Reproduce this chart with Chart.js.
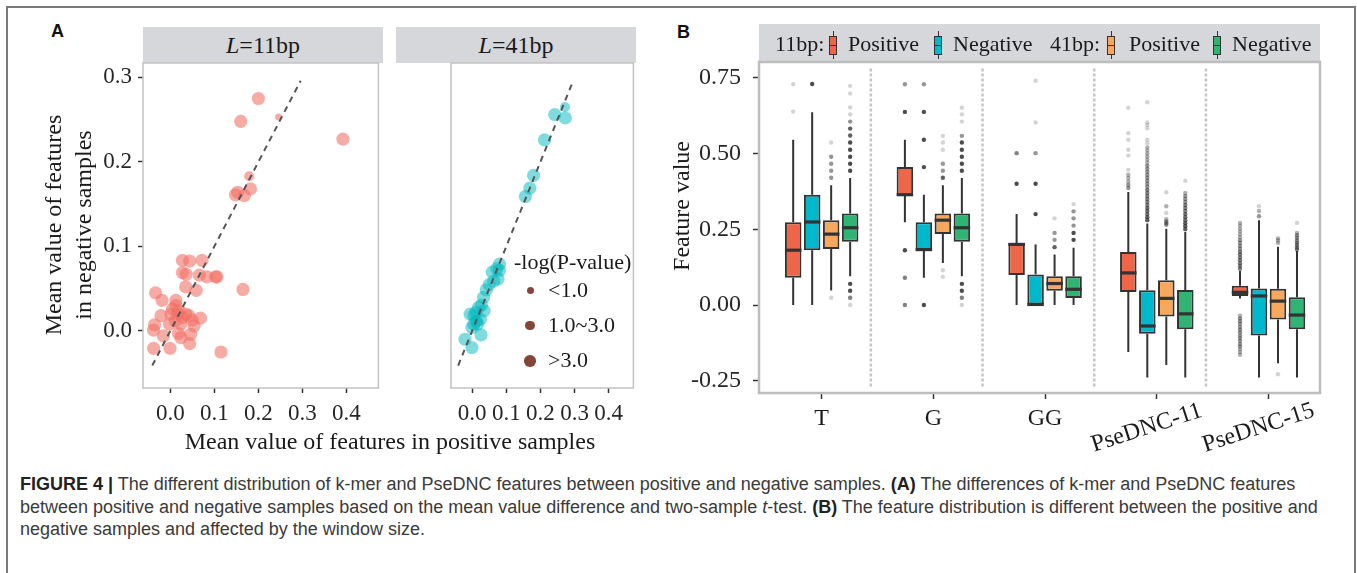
<!DOCTYPE html>
<html>
<head>
<meta charset="utf-8">
<title>Figure 4</title>
<script src="https://cdn.jsdelivr.net/npm/chart.js@4.4.1/dist/chart.umd.min.js"></script>
<style>
  html, body { margin: 0; padding: 0; }
  body { width: 1357px; height: 573px; position: relative; overflow: hidden; background: #fff;
         font-family: "Liberation Serif", "Times New Roman", serif; color: #1a1a1a; }
  .t { position: absolute; white-space: nowrap; line-height: 1; }
  .frame { position: absolute; left: 6px; top: 6px; width: 1346px; height: 700px; border: 2px solid #7a7a7a; }
  .tag { font-family: "Liberation Sans", Arial, sans-serif; font-weight: bold; font-size: 18px; color: #111; }
  .strip { position: absolute; background: #d5d7da; display: flex; align-items: center; justify-content: center; font-size: 24px; }
  .wrap { position: absolute; }
  canvas { display: block; }
  .icon { position: absolute; width: 8px; }
  .icon .w { position: absolute; left: 3.5px; top: 0; width: 1px; height: 28px; background: #333; }
  .icon .b { position: absolute; left: 0; top: 5px; width: 6px; height: 17px; border: 1px solid #333; }
  .icon .m { position: absolute; left: 0; top: 13.5px; width: 8px; height: 1px; background: #333; }
  .caption { font-family: "Liberation Sans", Arial, sans-serif; font-size: 18px; color: #3a3a3a; line-height: 22.5px; }
  .caption b { color: #222; }
</style>
</head>
<body>
<div class="frame"></div>
<div class="t tag" style="left:51px;top:22px">A</div>
<div class="t tag" style="left:677px;top:23px">B</div>

<div class="strip" style="left:143px;top:27px;width:240px;height:36px"><span><i>L</i>=11bp</span></div>
<div class="strip" style="left:396px;top:27px;width:240px;height:36px"><span><i>L</i>=41bp</span></div>

<div class="wrap" style="left:88px;top:55px;width:297px;height:375px"><canvas id="a11" width="297" height="375"></canvas></div>
<div class="wrap" style="left:392px;top:55px;width:248px;height:375px"><canvas id="a41" width="248" height="375"></canvas></div>

<!-- size legend, panel A -->
<div class="t" style="left:514px;top:251px;font-size:22px">-log(P-value)</div>
<div style="position:absolute;left:526.5px;top:286.5px;width:7px;height:7px;border-radius:50%;background:#84463a"></div>
<div style="position:absolute;left:525px;top:320.5px;width:9.5px;height:9.5px;border-radius:50%;background:#84463a"></div>
<div style="position:absolute;left:524px;top:355px;width:11.5px;height:11.5px;border-radius:50%;background:#84463a"></div>
<div class="t" style="left:548px;top:279px;font-size:22px">&lt;1.0</div>
<div class="t" style="left:548px;top:314px;font-size:22px">1.0~3.0</div>
<div class="t" style="left:548px;top:349px;font-size:22px">&gt;3.0</div>

<div class="t" style="left:0;width:780px;text-align:center;top:429px;font-size:24px">Mean value of features in positive samples</div>
<div class="t" style="left:-132px;top:195px;width:400px;height:60px;text-align:center;font-size:24px;line-height:30px;transform:rotate(-90deg)">Mean value of features<br>in negative samples</div>

<!-- panel B -->
<div class="strip" style="left:759px;top:24px;width:561px;height:38px"></div>
<div class="t" style="left:775px;top:33px;font-size:22px">11bp:</div>
<div class="icon" style="left:829px;top:31px"><div class="w"></div><div class="b" style="background:#ef6548"></div><div class="m"></div></div>
<div class="t" style="left:848px;top:33px;font-size:22px">Positive</div>
<div class="icon" style="left:934px;top:31px"><div class="w"></div><div class="b" style="background:#00b8cc"></div><div class="m"></div></div>
<div class="t" style="left:953px;top:33px;font-size:22px">Negative</div>
<div class="t" style="left:1050px;top:33px;font-size:22px">41bp:</div>
<div class="icon" style="left:1107px;top:31px"><div class="w"></div><div class="b" style="background:#f7a85c"></div><div class="m"></div></div>
<div class="t" style="left:1129px;top:33px;font-size:22px">Positive</div>
<div class="icon" style="left:1213px;top:31px"><div class="w"></div><div class="b" style="background:#2eb573"></div><div class="m"></div></div>
<div class="t" style="left:1232px;top:33px;font-size:22px">Negative</div>

<div class="wrap" style="left:690px;top:55px;width:635px;height:405px"><canvas id="boxes" width="635" height="405"></canvas></div>
<div class="t" style="left:531px;top:191px;width:300px;height:30px;text-align:center;font-size:24px;line-height:30px;transform:rotate(-90deg)">Feature value</div>

<div class="t caption" style="left:20px;top:473px">
<b>FIGURE 4 |</b> The different distribution of k-mer and PseDNC features between positive and negative samples. <b>(A)</b> The differences of k-mer and PseDNC features<br>between positive and negative samples based on the mean value difference and two-sample <i>t</i>-test. <b>(B)</b> The feature distribution is different between the positive and<br>negative samples and affected by the window size.
</div>

<script>
// ---------- panel A: mean feature value in positive (x) / negative (y) samples
const xTicksA = [0, 0.1, 0.2, 0.3, 0.4];
const yTicksA = [0, 0.1, 0.2, 0.3];
const diagLine = [-0.041, 0.296];

const l11Pos = [0.200, 0.160, 0.246, 0.392, 0.179, 0.153, 0.168, 0.182, 0.148, 0.0275,
  0.044, 0.072, 0.0275, 0.036, 0.066, 0.083, 0.106, 0.103, 0.035, 0.059,
  0.165, -0.0335, -0.0186, 0.0127, -0.021, 0.0015, 0.020, 0.042, 0.0685, 0.050,
  -0.0357, -0.038, -0.0156, 0.0186, 0.046, 0.024, 0.044, -0.038, -0.0007, 0.115,
  0.005, 0.016, 0.0275, 0.035, 0.011, -0.002, 0.024, 0.054, 0.0127];
const l11Neg = [0.275, 0.248, 0.253, 0.227, 0.183, 0.164, 0.160, 0.168, 0.161, 0.0834,
  0.0826, 0.0834, 0.069, 0.067, 0.066, 0.064, 0.064, 0.064, 0.052, 0.048,
  0.049, 0.045, 0.036, 0.036, 0.018, 0.020, 0.024, 0.018, 0.015, 0.0127,
  0.0072, 0.0008, -0.006, -0.003, -0.004, -0.008, -0.015, -0.0207, -0.0207, -0.025,
  0.026, 0.020, 0.016, 0.020, 0.012, 0.008, 0.008, 0.006, 0.030];
// -log(P-value) class: 0 = <1.0, 1 = 1.0~3.0, 2 = >3.0
const l11Sig = [2, 2, 0, 2, 1, 2, 2, 2, 2, 2, 2, 2, 2, 2, 2, 2, 2, 2, 2, 2, 2, 2, 2, 2, 2,
  2, 2, 2, 2, 2, 2, 2, 2, 2, 2, 2, 2, 2, 2, 2, 2, 2, 2, 2, 2, 2, 2, 2, 2];

const l41Pos = [0.272, 0.242, 0.273, 0.212, 0.180, 0.169, 0.156, 0.080, 0.072, 0.059,
  0.080, 0.076, 0.063, 0.050, 0.041, 0.0335, 0.0275, 0.0186, -0.006, 0.005,
  0.0127, 0.024, 0.005, -0.0007, 0.026, -0.021, -0.0007, 0.035, 0.011, 0.016];
const l41Neg = [0.265, 0.256, 0.252, 0.226, 0.184, 0.169, 0.159, 0.079, 0.0735, 0.0695,
  0.0715, 0.0616, 0.0588, 0.0548, 0.0485, 0.0397, 0.0306, 0.0278, 0.0199, 0.018,
  0.012, 0.0139, 0.008, 0.004, -0.0048, -0.0099, -0.0199, 0.0238, 0.022, 0.008];
const l41Sig = [1, 2, 2, 2, 2, 2, 2, 2, 2, 2, 2, 2, 2, 2, 2, 2, 2, 2, 2, 2, 2, 2, 2, 2, 2,
  2, 2, 2, 2, 2];

// ---------- panel B: feature value distributions
const categories = ['T', 'G', 'GG', 'PseDNC-11', 'PseDNC-15'];
const yTicksB = [-0.25, 0, 0.25, 0.5, 0.75];
const dividers = [0.44, 1.44, 2.44, 3.44];

// [lower whisker, Q1, median, Q3, upper whisker]
const pos11Box = [
  [0.000, 0.090, 0.181, 0.273, 0.545],
  [0.273, 0.361, 0.364, 0.455, 0.545],
  [0.000, 0.099, 0.200, 0.205, 0.300],
  [-0.155, 0.043, 0.106, 0.175, 0.373],
  [0.022, 0.030, 0.042, 0.064, 0.112]
];
const neg11Box = [
  [0.000, 0.181, 0.274, 0.364, 0.636],
  [0.090, 0.179, 0.183, 0.273, 0.364],
  [0.000, 0.000, 0.002, 0.101, 0.200],
  [-0.239, -0.095, -0.069, 0.049, 0.269],
  [-0.239, -0.100, 0.030, 0.055, 0.280]
];
const pos41Box = [
  [0.048, 0.185, 0.234, 0.280, 0.395],
  [0.139, 0.234, 0.280, 0.302, 0.395],
  [0.000, 0.047, 0.071, 0.095, 0.167],
  [-0.198, -0.038, 0.022, 0.082, 0.252],
  [-0.192, -0.048, 0.013, 0.054, 0.192]
];
const neg41Box = [
  [0.095, 0.209, 0.255, 0.302, 0.419],
  [0.095, 0.209, 0.255, 0.302, 0.419],
  [0.000, 0.023, 0.052, 0.095, 0.189],
  [-0.239, -0.080, -0.029, 0.050, 0.241],
  [-0.239, -0.080, -0.033, 0.026, 0.178]
];

// outliers: [value, how many points overlap there]
const pos11Out = [
  [[0.728, 1], [0.638, 1]],
  [[0.728, 3], [0.637, 8], [0.181, 8], [0.090, 4], [0.000, 4]],
  [[0.501, 4], [0.400, 8]],
  [[0.651, 1], [0.567, 1], [0.545, 1], [0.512, 1], [0.493, 1], [0.446, 1], [0.430, 2],
   [0.419, 2], [0.408, 2], [0.397, 3], [0.386, 3]],
  [[0.271, 2], [0.262, 2], [0.252, 2], [0.243, 2], [0.233, 2], [0.224, 2], [0.214, 3],
   [0.205, 3], [0.195, 3], [0.186, 3], [0.176, 4], [0.167, 4], [0.157, 4], [0.148, 4],
   [0.138, 4], [0.129, 4], [0.120, 4],
   [-0.035, 2], [-0.044, 3], [-0.053, 3], [-0.062, 3], [-0.072, 3], [-0.081, 3], [-0.090, 3],
   [-0.100, 3], [-0.109, 3], [-0.118, 3], [-0.128, 3], [-0.137, 3], [-0.146, 2], [-0.155, 2],
   [-0.164, 2]]
];
const neg11Out = [
  [[0.729, 8]],
  [[0.728, 3], [0.637, 8], [0.545, 8], [0.455, 8], [0.000, 8]],
  [[0.740, 1], [0.602, 1], [0.501, 3], [0.400, 8], [0.300, 8]],
  [[0.669, 1], [0.602, 1], [0.594, 1], [0.583, 1], [0.545, 1], [0.534, 1], [0.520, 2],
   [0.510, 2], [0.500, 2], [0.490, 2], [0.480, 2], [0.470, 2], [0.460, 3], [0.450, 3],
   [0.440, 3], [0.430, 3], [0.420, 3], [0.410, 3], [0.400, 3], [0.390, 3], [0.380, 4],
   [0.370, 4], [0.360, 4], [0.350, 4], [0.340, 4], [0.330, 4], [0.320, 5], [0.310, 5],
   [0.300, 5], [0.290, 6], [0.280, 6]],
  [[0.326, 1], [0.310, 2], [0.293, 3]]
];
const pos41Out = [
  [[0.536, 1], [0.489, 3], [0.466, 3], [0.443, 3], [0.420, 3], [0.024, 1]],
  [[0.558, 1], [0.536, 1], [0.512, 1], [0.466, 3], [0.443, 3], [0.420, 6], [0.115, 1], [0.093, 1]],
  [[0.286, 1], [0.238, 3], [0.215, 3], [0.191, 6]],
  [[0.372, 1], [0.326, 2], [0.304, 1], [0.283, 2], [0.276, 3], [0.270, 3], [0.265, 3]],
  [[0.220, 2], [0.213, 2], [0.205, 2], [-0.228, 1]]
];
const neg41Out = [
  [[0.723, 1], [0.698, 1], [0.652, 1], [0.629, 1], [0.605, 3], [0.582, 6], [0.559, 6],
   [0.536, 8], [0.512, 8], [0.489, 8], [0.466, 8], [0.443, 8],
   [0.070, 8], [0.047, 8], [0.024, 4], [0.000, 1]],
  [[0.651, 1], [0.629, 1], [0.605, 1], [0.558, 3], [0.536, 8], [0.512, 8], [0.489, 8],
   [0.466, 8], [0.443, 8], [0.070, 8], [0.047, 8], [0.024, 4], [0.000, 1]],
  [[0.333, 1], [0.309, 3], [0.286, 3], [0.262, 3], [0.238, 8], [0.215, 8]],
  [[0.410, 1], [0.370, 2], [0.360, 3], [0.350, 3], [0.340, 3], [0.330, 4], [0.320, 4],
   [0.310, 4], [0.300, 5], [0.290, 5], [0.280, 5], [0.270, 6], [0.260, 6], [0.250, 6]],
  [[0.271, 1], [0.238, 2], [0.230, 3], [0.222, 3], [0.214, 3], [0.206, 4], [0.198, 4],
   [0.190, 4], [0.183, 4]]
];

const seriesBoxes = [pos11Box, neg11Box, pos41Box, neg41Box];
const seriesOutliers = [pos11Out, neg11Out, pos41Out, neg41Out];
const seriesLabels = ['11bp Positive', '11bp Negative', '41bp Positive', '41bp Negative'];
const seriesColors = ['#ef6548', '#00b8cc', '#f7a85c', '#2eb573'];

// ---------- shared bits
const serif = '"Liberation Serif", serif';
const sizeBySig = [3.6, 5, 6.6];

// fixes an axis' thickness so the plot panels land where the figure has them
function fixAxis(size, key) {
  return function (scale) {
    scale[key] = size;
    scale.paddingLeft = scale.paddingRight = scale.paddingTop = scale.paddingBottom = 0;
  };
}

const panelFrame = {
  id: 'panelFrame',
  afterDraw(chart, args, opts) {
    const { ctx, chartArea: a } = chart;
    ctx.save();
    ctx.strokeStyle = opts.color;
    ctx.lineWidth = opts.width;
    ctx.strokeRect(a.left, a.top, a.right - a.left, a.bottom - a.top);
    ctx.restore();
  }
};

function scatterPanel(id, xs, ys, sig, color, showY, pad) {
  return new Chart(document.getElementById(id), {
    type: 'scatter',
    data: {
      datasets: [
        {
          type: 'line',
          data: diagLine.map(v => ({ x: v, y: v })),
          borderColor: '#555',
          borderWidth: 2,
          borderDash: [6, 5],
          pointRadius: 0,
          fill: false,
          order: 0
        },
        {
          data: xs.map((x, i) => ({ x, y: ys[i] })),
          backgroundColor: color,
          borderWidth: 0,
          pointRadius: sig.map(s => sizeBySig[s]),
          order: 1
        }
      ]
    },
    options: {
      responsive: false,
      animation: false,
      events: [],
      layout: { padding: pad },
      plugins: {
        legend: { display: false },
        tooltip: { enabled: false },
        panelFrame: { color: '#c2c2c2', width: 1.5 }
      },
      scales: {
        x: {
          type: 'linear', min: -0.062, max: 0.4725, offset: false,
          afterBuildTicks: s => { s.ticks = xTicksA.map(v => ({ value: v })); },
          afterFit: fixAxis(42, 'height'),
          grid: { drawOnChartArea: false, tickLength: 5, tickColor: '#333', tickWidth: 1.5 },
          border: { display: false },
          ticks: { callback: v => v.toFixed(1), font: { family: serif, size: 23 }, color: '#262626', padding: 7, maxRotation: 0 }
        },
        y: {
          display: showY,
          type: 'linear', min: -0.0676, max: 0.317,
          afterBuildTicks: s => { s.ticks = yTicksA.map(v => ({ value: v })); },
          afterFit: fixAxis(55, 'width'),
          grid: { drawOnChartArea: false, tickLength: 5, tickColor: '#333', tickWidth: 1.5 },
          border: { display: false },
          ticks: { callback: v => v.toFixed(1), font: { family: serif, size: 23 }, color: '#262626', padding: 6 }
        }
      }
    },
    plugins: [panelFrame]
  });
}

scatterPanel('a11', l11Pos, l11Neg, l11Sig, 'rgba(242, 110, 100, 0.58)', true, { top: 8, right: 2, left: 0, bottom: 0 });
scatterPanel('a41', l41Pos, l41Neg, l41Sig, 'rgba(0, 184, 190, 0.5)', false, { top: 8, right: 4, left: 4, bottom: 0 });

// whiskers, outliers, medians and the category labels of the box plots
const boxParts = {
  id: 'boxParts',
  beforeDatasetsDraw(chart) {
    const { ctx, scales: { x, y } } = chart;
    ctx.save();
    ctx.strokeStyle = '#c6c6c6';
    ctx.lineWidth = 2.5;
    ctx.setLineDash([3, 2]);
    dividers.forEach(d => {
      const px = x.getPixelForValue(d);
      ctx.beginPath();
      ctx.moveTo(px, y.getPixelForValue(0.78));
      ctx.lineTo(px, y.getPixelForValue(-0.27));
      ctx.stroke();
    });
    ctx.setLineDash([]);

    seriesBoxes.forEach((boxes, di) => {
      chart.getDatasetMeta(di).data.forEach((bar, i) => {
        const s = boxes[i];
        ctx.strokeStyle = '#333';
        ctx.lineWidth = 2;
        ctx.beginPath();
        ctx.moveTo(bar.x, y.getPixelForValue(s[4]));
        ctx.lineTo(bar.x, y.getPixelForValue(s[3]));
        ctx.moveTo(bar.x, y.getPixelForValue(s[1]));
        ctx.lineTo(bar.x, y.getPixelForValue(s[0]));
        ctx.stroke();
        seriesOutliers[di][i].forEach(([v, n]) => {
          ctx.fillStyle = 'rgba(40, 40, 40, ' + (1 - Math.pow(0.8, n)).toFixed(3) + ')';
          ctx.beginPath();
          ctx.arc(bar.x, y.getPixelForValue(v), 2.2, 0, Math.PI * 2);
          ctx.fill();
        });
      });
    });
    ctx.restore();
  },
  afterDatasetsDraw(chart) {
    const { ctx, scales: { y } } = chart;
    ctx.save();
    ctx.strokeStyle = '#333';
    ctx.lineWidth = 3.2;
    seriesBoxes.forEach((boxes, di) => {
      chart.getDatasetMeta(di).data.forEach((bar, i) => {
        const py = y.getPixelForValue(boxes[i][2]);
        ctx.beginPath();
        ctx.moveTo(bar.x - bar.width / 2, py);
        ctx.lineTo(bar.x + bar.width / 2, py);
        ctx.stroke();
      });
    });
    ctx.restore();
  },
  afterDraw(chart) {
    const { ctx, chartArea: a, scales: { x } } = chart;
    ctx.save();
    ctx.fillStyle = '#1a1a1a';
    ctx.font = '24px ' + serif;
    categories.forEach((c, i) => {
      const px = x.getPixelForValue(i);
      if (c.length < 4) {
        ctx.textAlign = 'center';
        ctx.textBaseline = 'alphabetic';
        ctx.fillText(c, px, a.bottom + 32);
      } else {
        ctx.save();
        ctx.translate(px - 10, a.bottom + 35);
        ctx.rotate(-18 * Math.PI / 180);
        ctx.textAlign = 'center';
        ctx.textBaseline = 'middle';
        ctx.fillText(c, 0, 0);
        ctx.restore();
      }
    });
    ctx.restore();
  }
};

new Chart(document.getElementById('boxes'), {
  type: 'bar',
  data: {
    datasets: seriesBoxes.map((boxes, di) => ({
      label: seriesLabels[di],
      data: boxes.map((s, i) => ({ x: i, y: [s[1], s[3]] })),
      backgroundColor: seriesColors[di],
      borderColor: '#333',
      borderWidth: 2,
      borderSkipped: false,
      categoryPercentage: 0.68,
      barPercentage: 0.87
    }))
  },
  options: {
    responsive: false,
    animation: false,
    events: [],
    layout: { padding: { top: 7, right: 5, left: 0, bottom: 0 } },
    plugins: {
      legend: { display: false },
      tooltip: { enabled: false },
      panelFrame: { color: '#bdbdbd', width: 2.5 }
    },
    scales: {
      x: {
        type: 'linear', min: -0.561, max: 4.461, offset: false,
        afterBuildTicks: s => { s.ticks = categories.map((c, i) => ({ value: i })); },
        afterFit: fixAxis(67, 'height'),
        grid: { drawOnChartArea: false, tickLength: 6, tickColor: '#333', tickWidth: 1.5, offset: false },
        border: { display: false },
        ticks: { display: false }
      },
      y: {
        type: 'linear', min: -0.29, max: 0.8016,
        afterBuildTicks: s => { s.ticks = yTicksB.map(v => ({ value: v })); },
        afterFit: fixAxis(69, 'width'),
        grid: { drawOnChartArea: false, tickLength: 6, tickColor: '#333', tickWidth: 1.5 },
        border: { display: false },
        ticks: { callback: v => v.toFixed(2), font: { family: serif, size: 24 }, color: '#262626', padding: 12 }
      }
    }
  },
  plugins: [boxParts, panelFrame]
});
</script>
</body>
</html>
